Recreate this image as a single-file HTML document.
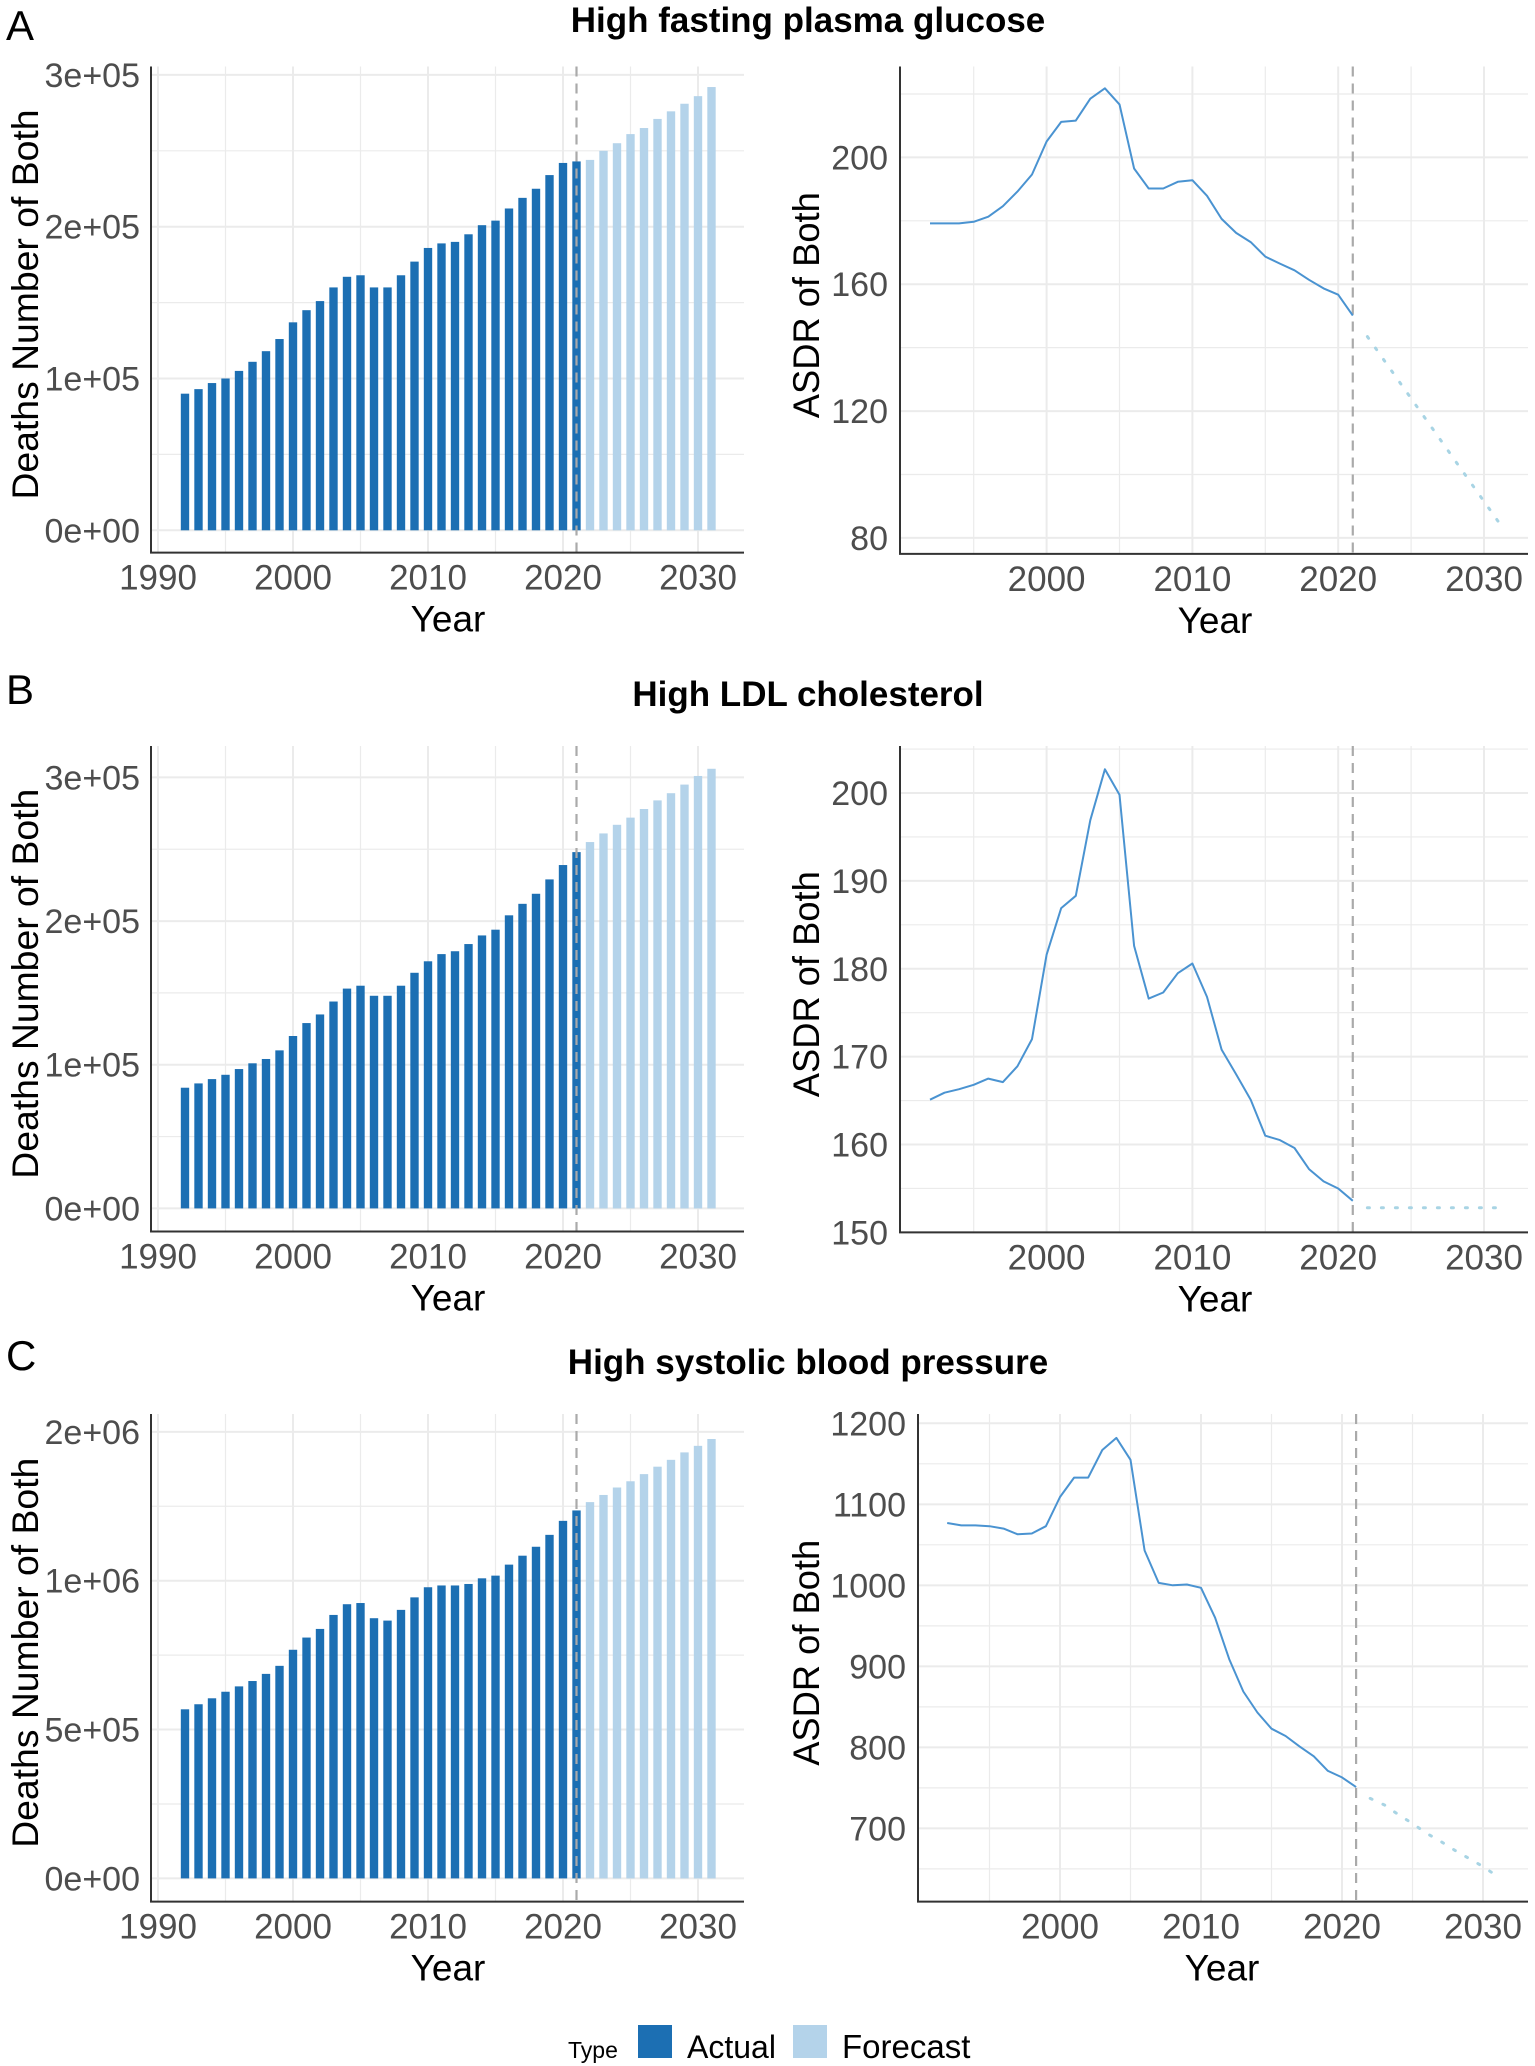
<!DOCTYPE html>
<html><head><meta charset="utf-8">
<style>
html,body{margin:0;padding:0;background:#fff;}
svg{display:block;font-family:"Liberation Sans",Arial,sans-serif;}
</style></head>
<body>
<svg id="fig" width="1535" height="2066" viewBox="0 0 1535 2066" xmlns="http://www.w3.org/2000/svg"></svg>
<script>
// ---------- data ----------
const yearsActual = [1992,1993,1994,1995,1996,1997,1998,1999,2000,2001,2002,2003,2004,2005,2006,2007,2008,2009,2010,2011,2012,2013,2014,2015,2016,2017,2018,2019,2020,2021];
const yearsForecast = [2022,2023,2024,2025,2026,2027,2028,2029,2030,2031];

const deathsA_actual = [90000,93000,97000,100000,105000,111000,118000,126000,137000,145000,151000,160000,167000,168000,160000,160000,168000,177000,186000,189000,190000,195000,201000,204000,212000,219000,225000,234000,242000,243000];
const deathsA_forecast = [244000,250000,255000,261000,265000,271000,276000,281000,286000,292000];
const asdrA_actual = [179.2,179.2,179.2,179.7,181.3,184.6,189.2,194.6,205.0,211.2,211.6,218.5,221.8,216.7,196.5,190.2,190.2,192.3,192.8,187.9,180.6,176.2,173.3,168.7,166.5,164.4,161.4,158.7,156.7,150.1];
const asdrA_forecast = [143.5,137.0,130.5,124.0,117.5,111.0,104.5,98.0,91.5,85.0];

const deathsB_actual = [84000,87000,90000,93000,97000,101000,104000,110000,120000,129000,135000,144000,153000,155000,148000,148000,155000,164000,172000,177000,179000,184000,190000,194000,204000,212000,219000,229000,239000,248000];
const deathsB_forecast = [255000,261000,267000,272000,278000,284000,289000,295000,301000,306000];
const asdrB_actual = [165.1,165.9,166.3,166.8,167.5,167.1,168.9,172.0,181.6,186.9,188.3,196.9,202.7,199.8,182.6,176.6,177.3,179.5,180.6,176.8,170.8,168.0,165.1,161.0,160.5,159.6,157.2,155.8,155.0,153.6];
const asdrB_forecast = [152.8,152.8,152.8,152.8,152.8,152.8,152.8,152.8,152.8,152.8];

const deathsC_actual = [568000,585000,605000,627000,645000,663000,687000,714000,768000,809000,838000,885000,921000,925000,874000,866000,902000,944000,978000,984000,984000,989000,1008000,1017000,1054000,1084000,1114000,1154000,1201000,1236000];
const deathsC_forecast = [1264000,1288000,1313000,1334000,1358000,1383000,1406000,1431000,1453000,1476000];
const asdrC_actual = [1077,1074,1074,1073,1070,1063,1064,1073,1109,1133,1133,1167,1182,1155,1043,1003,1000,1001,997,960,909,869,843,823,814,801,789,771,763,751];
const asdrC_forecast = [737,729,717,706,694,684,673,663,653,641];

const leftXTicks = [1990,2000,2010,2020,2030];
const rightXTicks = [2000,2010,2020,2030];
const deathsTicksAB = [0,100000,200000,300000];
const deathsLabelsAB = ["0e+00","1e+05","2e+05","3e+05"];
const deathsTicksC = [0,500000,1000000,1500000];
const deathsLabelsC = ["0e+00","5e+05","1e+06","2e+06"];
const asdrTicksA = [80,120,160,200];
const asdrTicksB = [150,160,170,180,190,200];
const asdrTicksC = [700,800,900,1000,1100,1200];
const titles = ["High fasting plasma glucose","High LDL cholesterol","High systolic blood pressure"];
const splitYear = 2021;

// ---------- drawing ----------
const NS = "http://www.w3.org/2000/svg";
const svg = document.getElementById('fig');
function mk(tag, attrs, parent, name, text){
  const e = document.createElementNS(NS, tag);
  for (const k in attrs) e.setAttribute(k, attrs[k]);
  
  
  if (text !== undefined) e.textContent = text;
  (parent || svg).appendChild(e);
  return e;
}
const GRID = "#ebebeb", AX = "#333", TICK = "#4d4d4d";
const BLUE = "#1c6fb3", LIGHT = "#b4d3ea", LINE = "#4a93d1", DOT = "#a8d4e4";
const TF = 34, XTF = 35, TITLEF = 37;

function linScale(v0, p0, v1, p1){ return v => p0 + (v - v0) * (p1 - p0) / (v1 - v0); }

function barPanel(cfg){
  const g = mk('g', {}, svg, cfg.name);
  const x = linScale(1990, 158, 2030, 698);
  const y = linScale(cfg.t0, cfg.p0, cfg.t1, cfg.p1);
  const top = cfg.top, bot = cfg.bot, L = 151, R = 744;
  for (let yr = 1990; yr <= 2030; yr += 5) {
    mk('line', {x1:x(yr), x2:x(yr), y1:top, y2:bot, stroke:GRID, 'stroke-width': yr % 10 === 0 ? 2 : 1.2}, g, 'x-gridline');
  }
  const st = cfg.gridStep;
  for (let v = 0; y(v) >= top - 1; v += st) {
    const isMajor = cfg.ticks.some(t => Math.abs(t - v) < 1);
    mk('line', {x1:L, x2:R, y1:y(v), y2:y(v), stroke:GRID, 'stroke-width': isMajor ? 2 : 1.2}, g, 'y-gridline');
  }
  const w = 13.5 * 0.62;
  yearsActual.forEach((yr, i) => {
    mk('rect', {x:x(yr) - w/2, y:y(cfg.actual[i]), width:w, height:y(0) - y(cfg.actual[i]), fill:BLUE}, g, 'bar-actual-' + yr);
  });
  yearsForecast.forEach((yr, i) => {
    mk('rect', {x:x(yr) - w/2, y:y(cfg.forecast[i]), width:w, height:y(0) - y(cfg.forecast[i]), fill:LIGHT}, g, 'bar-forecast-' + yr);
  });
  mk('line', {x1:x(splitYear), x2:x(splitYear), y1:top, y2:bot, stroke:"#aaaaaa", 'stroke-width':2.2, 'stroke-dasharray':'10 7'}, g, 'split-line');
  mk('polyline', {points:`${L},${top} ${L},${bot} ${R},${bot}`, fill:'none', stroke:AX, 'stroke-width':2}, g, 'axis-lines');
  cfg.ticks.forEach((t, i) => {
    mk('text', {x:140, y:y(t) + 12, 'text-anchor':'end', 'font-size':TF, fill:TICK}, g, 'y-tick-label', cfg.labels[i]);
  });
  leftXTicks.forEach(t => {
    mk('text', {x:x(t), y:bot + 37, 'text-anchor':'middle', 'font-size':XTF, fill:TICK}, g, 'x-tick-label', String(t));
  });
  mk('text', {x:448, y:bot + 79, 'text-anchor':'middle', 'font-size':TITLEF, fill:'#000'}, g, 'x-axis-title', 'Year');
  const cy = (top + bot) / 2 - 5;
  mk('text', {x:0, y:0, transform:`translate(38,${cy}) rotate(-90)`, 'text-anchor':'middle', 'font-size':TITLEF, fill:'#000', textLength:390, lengthAdjust:'spacingAndGlyphs'}, g, 'y-axis-title', 'Deaths Number of Both');
}

function linePanel(cfg){
  const g = mk('g', {}, svg, cfg.name);
  const x = linScale(2000, cfg.x2000, 2010, cfg.x2010);
  const y = linScale(cfg.t0, cfg.p0, cfg.t1, cfg.p1);
  const top = cfg.top, bot = cfg.bot, L = cfg.L, R = 1528;
  for (let yr = 1995; yr <= 2030; yr += 5) {
    mk('line', {x1:x(yr), x2:x(yr), y1:top, y2:bot, stroke:GRID, 'stroke-width': yr % 10 === 0 ? 2 : 1.2}, g, 'x-gridline');
  }
  const st = cfg.gridStep;
  for (let v = cfg.gridStart; y(v) >= top - 1; v += st) {
    if (y(v) > bot) continue;
    const isMajor = cfg.ticks.some(t => Math.abs(t - v) < 0.01);
    mk('line', {x1:L, x2:R, y1:y(v), y2:y(v), stroke:GRID, 'stroke-width': isMajor ? 2 : 1.2}, g, 'y-gridline');
  }
  mk('line', {x1:x(splitYear), x2:x(splitYear), y1:top, y2:bot, stroke:"#aaaaaa", 'stroke-width':2.2, 'stroke-dasharray':'10 7'}, g, 'split-line');
  const pa = yearsActual.map((yr, i) => `${x(yr).toFixed(1)},${y(cfg.actual[i]).toFixed(1)}`).join(' ');
  mk('polyline', {points:pa, fill:'none', stroke:LINE, 'stroke-width':2, 'stroke-linejoin':'round'}, g, 'asdr-actual-line');
  const pf = yearsForecast.map((yr, i) => `${x(yr).toFixed(1)},${y(cfg.forecast[i]).toFixed(1)}`).join(' ');
  mk('polyline', {points:pf, fill:'none', stroke:DOT, 'stroke-width':3, 'stroke-dasharray':'2 12', 'stroke-linecap':'round'}, g, 'asdr-forecast-line');
  mk('polyline', {points:`${L},${top} ${L},${bot} ${R},${bot}`, fill:'none', stroke:AX, 'stroke-width':2}, g, 'axis-lines');
  cfg.ticks.forEach(t => {
    mk('text', {x:cfg.labelX, y:y(t) + 12, 'text-anchor':'end', 'font-size':TF, fill:TICK}, g, 'y-tick-label', String(t));
  });
  rightXTicks.forEach(t => {
    mk('text', {x:x(t), y:bot + 37, 'text-anchor':'middle', 'font-size':XTF, fill:TICK}, g, 'x-tick-label', String(t));
  });
  mk('text', {x:cfg.yearX, y:bot + 79, 'text-anchor':'middle', 'font-size':TITLEF, fill:'#000'}, g, 'x-axis-title', 'Year');
  const cy = (top + bot) / 2 - 5;
  mk('text', {x:0, y:0, transform:`translate(${cfg.titleX},${cy}) rotate(-90)`, 'text-anchor':'middle', 'font-size':TITLEF, fill:'#000', textLength:226, lengthAdjust:'spacingAndGlyphs'}, g, 'y-axis-title', 'ASDR of Both');
}

// panel letters and titles
mk('text', {x:6, y:40, 'font-size':42, fill:'#000'}, svg, 'panel-letter-a', 'A');
mk('text', {x:6, y:704, 'font-size':42, fill:'#000'}, svg, 'panel-letter-b', 'B');
mk('text', {x:6, y:1370, 'font-size':42, fill:'#000'}, svg, 'panel-letter-c', 'C');
mk('text', {x:808, y:32, 'text-anchor':'middle', 'font-size':35, 'font-weight':'bold', fill:'#000'}, svg, 'title-a', titles[0]);
mk('text', {x:808, y:706, 'text-anchor':'middle', 'font-size':35, 'font-weight':'bold', fill:'#000'}, svg, 'title-b', titles[1]);
mk('text', {x:808, y:1374, 'text-anchor':'middle', 'font-size':35, 'font-weight':'bold', fill:'#000'}, svg, 'title-c', titles[2]);

barPanel({name:'deaths-chart-a', top:66.5, bot:552.6, t0:0, p0:530.3, t1:300000, p1:74.9, gridStep:50000, ticks:deathsTicksAB, labels:deathsLabelsAB, actual:deathsA_actual, forecast:deathsA_forecast});
barPanel({name:'deaths-chart-b', top:746, bot:1231.5, t0:0, p0:1208.4, t1:300000, p1:777.4, gridStep:50000, ticks:deathsTicksAB, labels:deathsLabelsAB, actual:deathsB_actual, forecast:deathsB_forecast});
barPanel({name:'deaths-chart-c', top:1414, bot:1901.6, t0:0, p0:1878.4, t1:1000000, p1:1580.7, gridStep:250000, ticks:deathsTicksC, labels:deathsLabelsC, actual:deathsC_actual, forecast:deathsC_forecast});

linePanel({name:'asdr-chart-a', top:66.5, bot:553.9, L:900, x2000:1046.6, x2010:1192.4, t0:80, p0:537.9, t1:200, p1:157.4, gridStart:80, gridStep:20, ticks:asdrTicksA, labelX:888, yearX:1215, titleX:819, actual:asdrA_actual, forecast:asdrA_forecast});
linePanel({name:'asdr-chart-b', top:746, bot:1232.4, L:900, x2000:1046.6, x2010:1192.4, t0:150, p0:1232.4, t1:200, p1:793, gridStart:150, gridStep:5, ticks:asdrTicksB, labelX:888, yearX:1215, titleX:819, actual:asdrB_actual, forecast:asdrB_forecast});
linePanel({name:'asdr-chart-c', top:1414, bot:1901.6, L:918, x2000:1060, x2010:1201, t0:700, p0:1828.4, t1:1200, p1:1423.3, gridStart:650, gridStep:50, ticks:asdrTicksC, labelX:906, yearX:1222, titleX:819, actual:asdrC_actual, forecast:asdrC_forecast});

// legend
const lg = mk('g', {}, svg, 'legend');
mk('text', {x:568, y:2058, 'font-size':23, fill:'#000'}, lg, 'legend-title', 'Type');
mk('rect', {x:638, y:2025, width:34, height:33, fill:BLUE}, lg, 'legend-swatch-actual');
mk('text', {x:687, y:2058, 'font-size':32, fill:'#000'}, lg, 'legend-label-actual', 'Actual');
mk('rect', {x:793, y:2025, width:34, height:33, fill:LIGHT}, lg, 'legend-swatch-forecast');
mk('text', {x:842, y:2058, 'font-size':33, fill:'#000'}, lg, 'legend-label-forecast', 'Forecast');
</script>
</body></html>
